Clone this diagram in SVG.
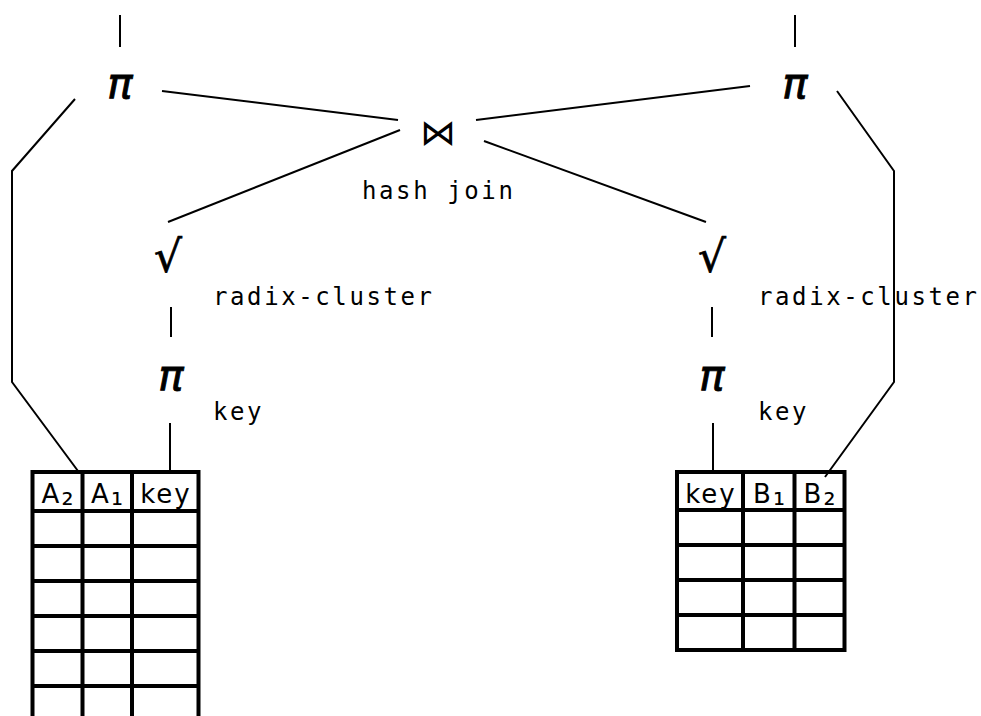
<svg xmlns="http://www.w3.org/2000/svg" width="981" height="716" viewBox="0 0 981 716">
<style>
.ln{stroke:#000;stroke-width:2;fill:none}
.grid{stroke:#000;stroke-width:4;fill:none}
.op{font-family:"DejaVu Sans",sans-serif;font-style:italic;font-size:42px;text-anchor:middle;fill:#000;stroke:#000;stroke-width:0.9px}
.lbl{font-family:"DejaVu Sans Mono",monospace;font-size:24px;letter-spacing:2.6px;fill:#000}
.hd{font-family:"DejaVu Sans",sans-serif;font-size:26px;letter-spacing:2px;text-anchor:middle;fill:#000}
.sub{font-size:30px}
</style>
<rect width="981" height="716" fill="#fff"/>
<g id="connectors">
<line class="ln" x1="120" y1="15" x2="120" y2="47"/>
<line class="ln" x1="795" y1="15" x2="795" y2="47"/>
<line class="ln" x1="162" y1="91" x2="398" y2="120"/>
<line class="ln" x1="476" y1="120" x2="750" y2="86"/>
<line class="ln" x1="400" y1="130" x2="168" y2="222"/>
<line class="ln" x1="484" y1="141" x2="706" y2="222"/>
<polyline class="ln" points="75,99 12,171 12,382 78,471"/>
<polyline class="ln" points="837,91 894,171 894,382 825,477"/>
<line class="ln" x1="171" y1="307" x2="171" y2="337"/>
<line class="ln" x1="712" y1="307" x2="712" y2="337"/>
<line class="ln" x1="170" y1="423" x2="170" y2="470"/>
<line class="ln" x1="713" y1="423" x2="713" y2="470"/>
</g>
<g id="proj-left-top"><text class="op" x="120" y="98">π</text></g>
<g id="proj-right-top"><text class="op" x="795" y="98">π</text></g>
<g id="join"><text x="438" y="145" style="font-family:'DejaVu Sans',sans-serif;font-size:36px;text-anchor:middle">⋈</text>
<text class="lbl" x="362" y="199">hash join</text></g>
<g id="radix-left"><text class="op" x="168" y="272" style="font-size:44px;stroke-width:0.7px">√</text>
<text class="lbl" x="213" y="305">radix-cluster</text></g>
<g id="radix-right"><text class="op" x="712" y="272" style="font-size:44px;stroke-width:0.7px">√</text>
<text class="lbl" x="758" y="305">radix-cluster</text></g>
<g id="proj-left-key"><text class="op" x="171" y="390">π</text>
<text class="lbl" x="213" y="420">key</text></g>
<g id="proj-right-key"><text class="op" x="712" y="390">π</text>
<text class="lbl" x="758" y="420">key</text></g>
<g id="table-A">
<path class="grid" d="M32.5,472V716M82.5,472V716M132,472V716M198.5,472V716M30.5,472H200.5M30.5,511H200.5M30.5,546H200.5M30.5,581H200.5M30.5,616H200.5M30.5,651H200.5M30.5,686H200.5"/>
<text class="hd" x="58.5" y="503">A<tspan class="sub" dy="2">₂</tspan></text>
<text class="hd" x="108" y="503">A<tspan class="sub" dy="2">₁</tspan></text>
<text class="hd" x="166" y="503">key</text>
</g>
<g id="table-B">
<path class="grid" d="M677,472V652M743,472V652M794.5,472V652M844.5,472V652M675,472H846.5M675,510H846.5M675,545H846.5M675,580H846.5M675,615H846.5M675,650H846.5"/>
<text class="hd" x="711" y="503">key</text>
<text class="hd" x="770" y="503">B<tspan class="sub" dy="2">₁</tspan></text>
<text class="hd" x="820.5" y="503">B<tspan class="sub" dy="2">₂</tspan></text>
</g>
</svg>
